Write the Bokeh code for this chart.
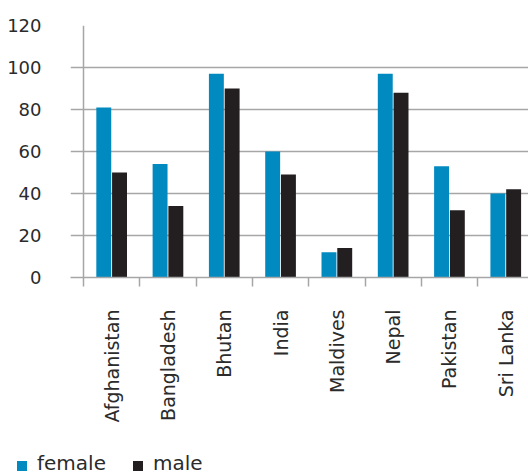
from bokeh.plotting import figure
from bokeh.layouts import column
from bokeh.models import Range1d, FixedTicker, Span, ColumnDataSource, Div
from bokeh.embed import file_html
from bokeh.resources import INLINE
import math

countries = ["Afghanistan", "Bangladesh", "Bhutan", "India", "Maldives", "Nepal", "Pakistan", "Sri Lanka"]
female = [81, 54, 97, 60, 12, 97, 53, 40]
male = [50, 34, 90, 49, 14, 88, 32, 42]
y_ticks = [0, 20, 40, 60, 80, 100, 120]
series_names = ["female", "male"]

FONT = "DejaVu Sans"
BLUE = "#008AC0"
BLACK = "#231F20"
GRID = "#A6A6A6"
TEXT = "#2B2B2B"
series_colors = [BLUE, BLACK]

idx = list(range(len(countries)))
centers = [i + 0.5 for i in idx]
src = ColumnDataSource(dict(
    xf=[c - 0.14 for c in centers],
    xm=[c + 0.14 for c in centers],
    female=female,
    male=male,
))

p = figure(
    width=528, height=446,
    x_range=Range1d(-0.231, 7.904), y_range=Range1d(0, 120),
    output_backend="svg", toolbar_location=None,
    min_border_left=70, min_border_right=0, min_border_top=25, min_border_bottom=169,
)
p.outline_line_color = None

p.vbar(x="xf", top="female", width=0.265, source=src, fill_color=BLUE, line_color=None)
p.vbar(x="xm", top="male", width=0.265, source=src, fill_color=BLACK, line_color=None)

# y axis
p.yaxis.ticker = FixedTicker(ticks=y_ticks)
p.yaxis.axis_line_color = None
p.yaxis.major_tick_line_color = None
p.yaxis.minor_tick_line_color = None
p.yaxis.major_label_standoff = 23
p.yaxis.major_label_text_font = FONT
p.yaxis.major_label_text_font_size = "18px"
p.yaxis.major_label_text_color = TEXT

p.ygrid.ticker = FixedTicker(ticks=y_ticks)
p.ygrid.grid_line_color = GRID
p.ygrid.grid_line_width = 1.5
p.xgrid.grid_line_color = None

# x axis
p.xaxis.ticker = FixedTicker(ticks=centers, minor_ticks=list(range(len(countries) + 1)))
p.xaxis.major_label_overrides = {c: n for c, n in zip(centers, countries)}
p.xaxis.major_label_orientation = math.pi / 2
p.xaxis.major_tick_line_color = None
p.xaxis.major_tick_out = 0
p.xaxis.major_tick_in = 0
p.xaxis.minor_tick_line_color = GRID
p.xaxis.minor_tick_line_width = 1.5
p.xaxis.minor_tick_out = 9
p.xaxis.minor_tick_in = 0
p.xaxis.axis_line_color = GRID
p.xaxis.axis_line_width = 1.5
p.xaxis.major_label_standoff = 23
p.xaxis.major_label_text_font = FONT
p.xaxis.major_label_text_font_size = "19px"
p.xaxis.major_label_text_color = TEXT

p.add_layout(Span(location=0, dimension="height", line_color=GRID, line_width=1.5))

# legend strip below the chart
items_html = []
for i, (name, col) in enumerate(zip(series_names, series_colors)):
    ml = "0" if i == 0 else "27px"
    items_html.append(
        f'<span style="display:inline-block;width:10px;height:10px;background:{col};'
        f'margin-left:{ml};margin-right:10px;vertical-align:-1px"></span>{name}'
    )
legend_div = Div(
    text=(f'<div style="font-family:\'{FONT}\';font-size:20px;color:{TEXT};'
          f'padding-left:17px;padding-top:7px;line-height:20px;white-space:nowrap">'
          + "".join(items_html) + "</div>"),
    width=528, height=30, margin=0,
)

layout = column(p, legend_div, spacing=0)
open("out.html", "w").write(file_html(layout, INLINE))
